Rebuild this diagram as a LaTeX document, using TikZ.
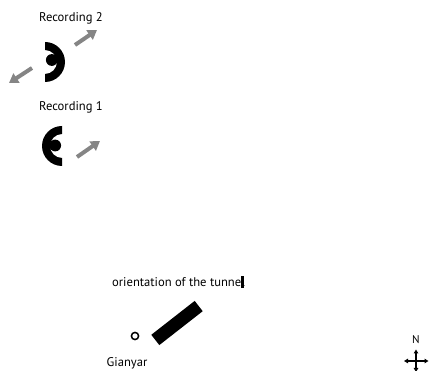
\documentclass[tikz,border=0pt]{standalone}
\usepackage{fontspec}
\setmainfont{PT Sans}
\usetikzlibrary{arrows.meta,calc}
\begin{document}
\begin{tikzpicture}[x=1pt,y=-1pt,
  lbl/.style={inner sep=0pt,font=\fontsize{12.6}{14}\selectfont},
  grayarrow/.style={draw=black!48,line width=4pt,-{Triangle[width=11pt,length=9pt]}},
  compass/.style={draw=black,line width=1.2pt,{Triangle[width=4.5pt,length=4pt]}-{Triangle[width=4.5pt,length=4pt]}}]
\useasboundingbox (0,0) rectangle (429,371);
\clip (0,0) rectangle (429,371);
% Recording 2
\node[lbl] (r2) at (71,18) {Recording 2};
\fill (45,42) arc[start angle=-90,end angle=90,radius=20] -- ++(0,-8) arc[start angle=90,end angle=-90,radius=12] -- cycle;
\fill (51.8,60) circle[radius=5.9];
\coordinate (a2s) at (75,45); \coordinate (a2e) at (97,30);
\coordinate (b2s) at (32,68); \coordinate (b2e) at (9,83);
\draw[grayarrow] (a2s) -- (a2e);
\draw[grayarrow] (b2s) -- (b2e);
% Recording 1
\node[lbl] (r1) at (71,107) {Recording 1};
\fill (62,126) arc[start angle=-90,end angle=-270,radius=20] -- ++(0,-8) arc[start angle=-270,end angle=-90,radius=12] -- cycle;
\fill (55.2,145.5) circle[radius=5.9];
\coordinate (a1s) at (77,157); \coordinate (a1e) at (100,141);
\draw[grayarrow] (a1s) -- (a1e);
% tunnel
\node[lbl,anchor=west] (tt) at (112,282) {orientation of the tunne\rlap{\rule[-1pt]{3pt}{11.5pt}}l};
\fill (151.3,334.8) -- (159.3,345.1) -- (202.7,311.2) -- (194.7,300.9) -- cycle;
\draw[line width=1.5pt] (135,336) circle[radius=3.6];
\node[lbl] (g) at (127,363) {Gianyar};
% compass
\node[lbl,font=\fontsize{11.2}{13}\selectfont] (n) at (416,340) {N};
\coordinate (cl) at (404,361); \coordinate (cr) at (428.5,361);
\coordinate (ct) at (416,349.5); \coordinate (cb) at (416,372);
\draw[compass] (cl) -- (cr);
\draw[compass] (ct) -- (cb);
\end{tikzpicture}
\end{document}
